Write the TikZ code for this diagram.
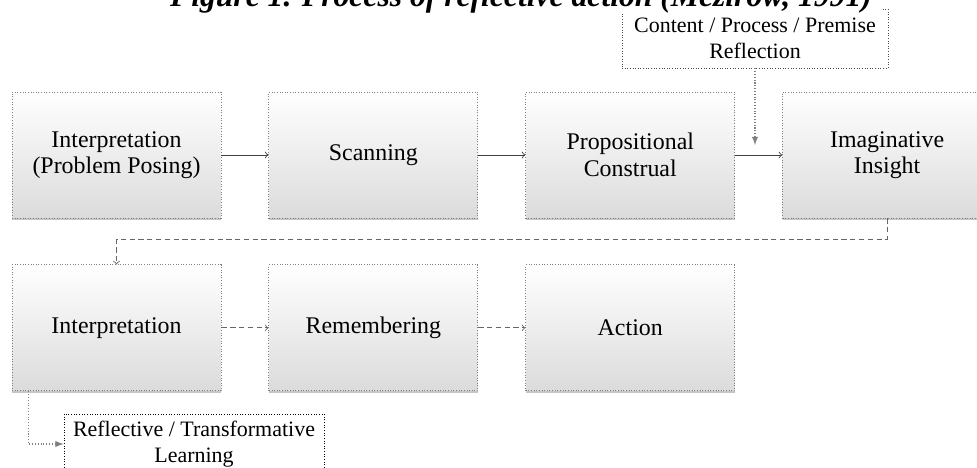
\documentclass[tikz,border=0pt]{standalone}
\usepackage{fontspec}
\setmainfont{Liberation Serif}
\usepackage{tikz}
\usetikzlibrary{shapes,arrows,positioning,fit,calc,shadows}

\begin{document}
\begin{tikzpicture}[node distance=0.92cm and 0.94cm,
  stage/.style={rectangle,draw=gray,densely dotted,line width=0.5pt,
    top color=white,middle color=white,bottom color=black!14,
    minimum width=4.18cm,minimum height=2.52cm,align=center,
    font=\fontsize{13.6}{15}\selectfont,
    drop shadow={shadow xshift=0pt,shadow yshift=-1pt,opacity=.45,fill=gray}},
  note/.style={rectangle,draw=gray!60!black,densely dotted,line width=0.5pt,fill=white,
    align=center,inner sep=0pt,font=\fontsize{12.5}{15}\selectfont},
  flow/.style={->,draw=black!75,line width=0.5pt},
  dflow/.style={->,draw=black!60,densely dashed,line width=0.5pt},
  side/.style={-latex,draw=gray,densely dotted,line width=0.6pt}]

\useasboundingbox (0,0) rectangle (19.54,-9.36);
\clip (0,0) rectangle (19.54,-9.36);

% first row
\node[stage] (s1) at (2.33,-3.10) {Interpretation\\(Problem Posing)};
\node[stage,right=of s1] (s2) {Scanning};
\node[stage,right=of s2] (s3) {Propositional\\Construal};
\node[stage,right=of s3] (s4) {Imaginative\\Insight};

% second row
\node[stage,below=of s1] (s5) {Interpretation};
\node[stage,right=of s5] (s6) {Remembering};
\node[stage,right=of s6] (s7) {Action};

% side notes
\node[note,minimum width=5.32cm,minimum height=1.18cm] (crp) at (15.1,-0.77) {Content / Process / Premise\\Reflection};
\node[note,draw=black,minimum width=5.2cm,minimum height=1.2cm] (rtl) at (3.88,-8.88) {Reflective / Transformative\\Learning};

% title, cut by the top edge
\node[anchor=base,fill=white,inner ysep=0pt,inner xsep=6pt,
  font=\fontsize{18}{20}\selectfont\bfseries\itshape] (ttl) at (10.42,-0.14)
  {Figure 1. Process of reflective action (Mezirow, 1991)};

\draw[flow] (s1) -- (s2);
\draw[flow] (s2) -- (s3);
\draw[flow] (s3) -- (s4);
\draw[dflow] (s4.south) -- ++(0,-0.42) -| (s5.north);
\draw[dflow] (s5) -- (s6);
\draw[dflow] (s6) -- (s7);

% reflection inputs
\coordinate (cin) at (15.1,-2.90);
\draw[side] (crp.south) -- (cin);
\draw[side] ([xshift=0.34cm]s5.south west) |- (rtl.west);
\end{tikzpicture}
\end{document}
